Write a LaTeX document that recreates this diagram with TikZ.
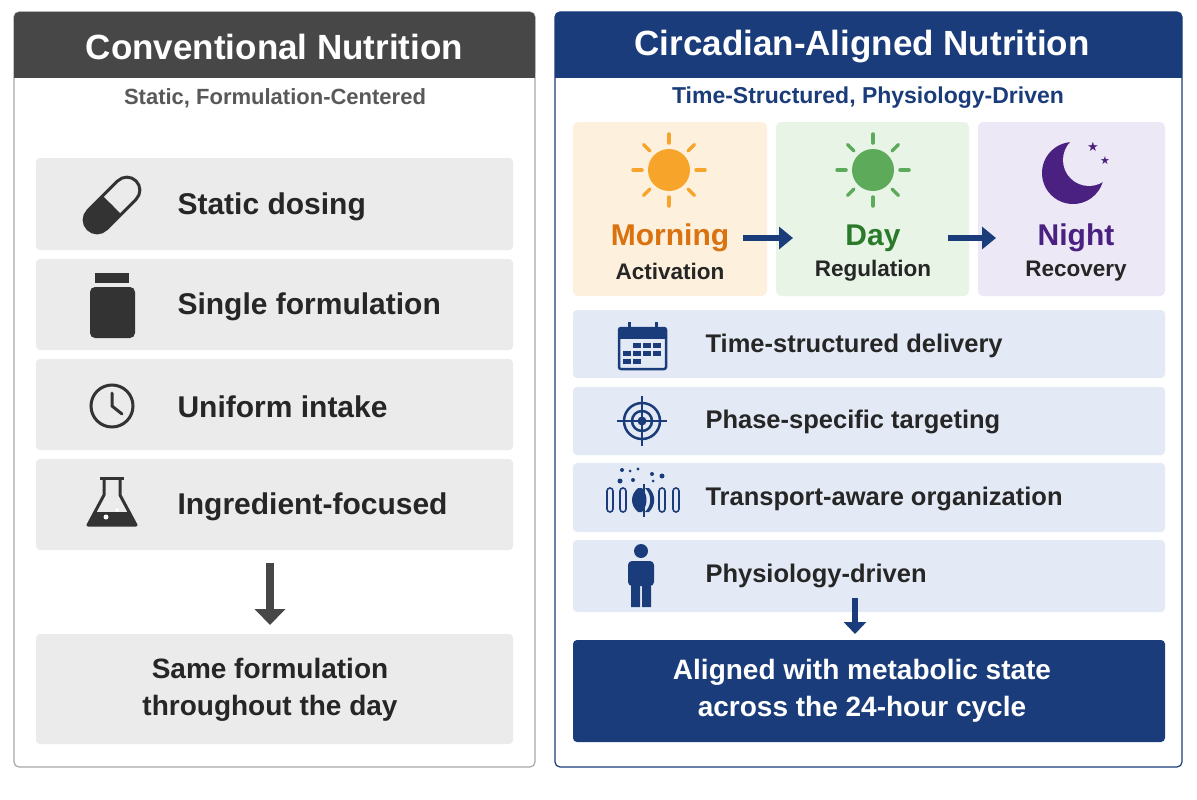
\documentclass[tikz,border=0pt]{standalone}
\usepackage{fontspec}
\usetikzlibrary{arrows.meta}
\setmainfont{Liberation Sans}
\newfontfamily\symf{DejaVu Sans}
\begin{document}
\begin{tikzpicture}[x=1pt,y=-1pt,
  lbox/.style={fill=boxgray,rounded corners=4pt},
  rbox/.style={fill=boxblue,rounded corners=4pt},
  ltxt/.style={anchor=west,font=\fontsize{30}{33}\selectfont\bfseries,text=black!85},
  rtxt/.style={anchor=west,font=\fontsize{25.5}{28}\selectfont\bfseries,text=black!85},
  big/.style={font=\fontsize{35}{40}\selectfont\bfseries,text=white}]
\definecolor{navy}{HTML}{1B3C7A}
\definecolor{boxgray}{HTML}{EBEBEB}
\definecolor{boxblue}{HTML}{E3EAF5}
\definecolor{dgray}{HTML}{474747}
\definecolor{morn}{HTML}{FDF0DC}
\definecolor{dayc}{HTML}{E8F4E6}
\definecolor{nite}{HTML}{ECE8F6}
\definecolor{orng}{HTML}{F7A52A}
\definecolor{orngt}{HTML}{D9720F}
\definecolor{grn}{HTML}{5DAA5A}
\definecolor{grnt}{HTML}{2A7A2A}
\definecolor{purp}{HTML}{4A2080}
\definecolor{ic}{HTML}{333333}
\useasboundingbox[fill=white] (0,0) rectangle (1197,800);
% left panel
\draw[draw=gray!70,rounded corners=5pt,line width=1.2pt] (14,12) rectangle (535,767);
\fill[dgray,rounded corners=5pt] (14,12) rectangle (535,78);
\fill[dgray] (14,50) rectangle (535,78);
\node[big] (lt) at (274.5,47) {Conventional Nutrition};
\node[font=\fontsize{22}{24}\selectfont\bfseries,text=black!65] (ls) at (275,98) {Static, Formulation-Centered};
\fill[lbox] (36,158) rectangle (513,250);
\fill[lbox] (36,259) rectangle (513,350);
\fill[lbox] (36,359) rectangle (513,450);
\fill[lbox] (36,459) rectangle (513,550);
\node[ltxt] (l1) at (174,207) {Static dosing};
\node[ltxt] (l2) at (174,307) {Single formulation};
\node[ltxt] (l3) at (174,407) {Uniform intake};
\node[ltxt] (l4) at (174,507) {Ingredient-focused};
% pill
\begin{scope}[shift={(112,205)},rotate=45]
\draw[ic,line width=3pt,rounded corners=13pt] (-34,-13) rectangle (34,13);
\fill[ic,rounded corners=11pt] (-33,-12) -- (0,-12) -- (0,12) -- (-33,12) -- cycle;
\fill[ic] (-20,-12) rectangle (0,12);
\end{scope}
% jar
\fill[ic] (95,273) rectangle (129,283);
\fill[ic,rounded corners=5pt] (90,287) rectangle (135,338);
% clock
\draw[ic,line width=3pt] (112,406) circle (21);
\draw[ic,line width=3pt,line cap=round] (112,393) -- (112,406) -- (122,414);
% flask
\draw[ic,line width=3pt,line join=round] (104,478) -- (104,495) -- (88,525) -- (136,525) -- (120,495) -- (120,478);
\draw[ic,line width=3pt] (100,478) -- (124,478);
\fill[ic] (94,512) -- (130,512) -- (136,525) -- (88,525) -- cycle;
\fill[white] (106,517) circle (2.5) (117,510) circle (1.8);
% arrow left
\coordinate (la1) at (270,563);
\coordinate (la2) at (270,625);
\draw[dgray,line width=8pt,-{Triangle[length=16pt,width=30pt]}] (la1) -- (la2);
\fill[lbox] (36,634) rectangle (513,744);
\node[font=\fontsize{28}{37}\selectfont\bfseries,align=center,text=black!85] (lb) at (270,690) {Same formulation\\throughout the day};
% right panel
\draw[draw=navy,rounded corners=5pt,line width=1.2pt] (555,12) rectangle (1182,767);
\fill[navy,rounded corners=5pt] (555,12) rectangle (1182,78);
\fill[navy] (555,50) rectangle (1182,78);
\node[big] (rt) at (862,47) {Circadian-Aligned Nutrition};
\node[font=\fontsize{23}{25}\selectfont\bfseries,text=navy] (rs) at (868,98) {Time-Structured, Physiology-Driven};
\fill[morn,rounded corners=5pt] (573,122) rectangle (767,296);
\fill[dayc,rounded corners=5pt] (776,122) rectangle (969,296);
\fill[nite,rounded corners=5pt] (978,122) rectangle (1165,296);
% suns
\foreach \cx/\cc in {669/orng,873/grn}{
  \fill[\cc] (\cx,170) circle (21);
  \foreach \a in {0,45,...,315}
    \draw[\cc,line width=3.5pt,line cap=round] (\cx,170) ++(\a:27) -- ++(\a:9);
}
% moon
\fill[purp] (1073,173) circle (31);
\fill[nite] (1089,160) circle (26);
\node[text=purp,font=\symf\fontsize{13}{13}\selectfont] (s1) at (1093,147) {★};
\node[text=purp,font=\symf\fontsize{11}{11}\selectfont] (s2) at (1105,161) {★};
\node[font=\fontsize{30}{33}\selectfont\bfseries,text=orngt] (m1) at (670,238) {Morning};
\node[font=\fontsize{22.5}{25}\selectfont\bfseries,text=black!85] (m2) at (670,271) {Activation};
\node[font=\fontsize{30}{33}\selectfont\bfseries,text=grnt] (d1) at (873,238) {Day};
\node[font=\fontsize{22.5}{25}\selectfont\bfseries,text=black!85] (d2) at (873,271) {Regulation};
\node[font=\fontsize{30}{33}\selectfont\bfseries,text=purp] (n1) at (1076,238) {Night};
\node[font=\fontsize{22.5}{25}\selectfont\bfseries,text=black!85] (n2) at (1076,271) {Recovery};
\coordinate (a1) at (743,238); \coordinate (a2) at (793,238);
\coordinate (a3) at (948,238); \coordinate (a4) at (996,238);
\draw[navy,line width=6pt,-{Triangle[length=14pt,width=22pt]}] (a1) -- (a2);
\draw[navy,line width=6pt,-{Triangle[length=14pt,width=22pt]}] (a3) -- (a4);
% list
\fill[rbox] (573,310) rectangle (1165,378);
\fill[rbox] (573,387) rectangle (1165,455);
\fill[rbox] (573,463) rectangle (1165,532);
\fill[rbox] (573,540) rectangle (1165,612);
\node[rtxt] (r1) at (702,346) {Time-structured delivery};
\node[rtxt] (r2) at (702,422) {Phase-specific targeting};
\node[rtxt] (r3) at (702,499) {Transport-aware organization};
\node[rtxt] (r4) at (702,576) {Physiology-driven};
% calendar
\draw[navy,line width=2.5pt,rounded corners=2pt] (619,328) rectangle (666,369);
\fill[navy] (619,328) rectangle (666,339);
\draw[navy,line width=3pt] (629,322) -- (629,333) (656,322) -- (656,333);
\foreach \xx/\yy in {637/345,647/345,657/345,627/353,637/353,647/353,657/353,627/361,637/361}
  \fill[navy] (\xx-4,\yy-2.5) rectangle (\xx+4,\yy+2.5);
% target
\draw[navy,line width=2.5pt] (642,421) circle (18) (642,421) circle (10);
\fill[navy] (642,421) circle (4.5);
\draw[navy,line width=2.5pt] (642,396) -- (642,446) (617,421) -- (667,421);
% transport
\foreach \xx/\yy/\r in {622/470/2,630/471/1.5,638/469/1.7,620/481/2.5,633/480/2,652/474/2,662/476/2.5,653/481/1.5}
  \fill[navy] (\xx,\yy) circle (\r);
\foreach \xx in {610,623,662,676}
  \draw[navy,line width=1.6pt,rounded corners=3pt] (\xx-3,488) rectangle (\xx+3,512);
\fill[navy] (638,488) .. controls (630,495) and (630,505) .. (638,512) -- (642,512) .. controls (648,505) and (648,495) .. (642,488) -- cycle;
\fill[navy] (645,488) .. controls (652,495) and (652,505) .. (645,512) -- (649,512) .. controls (656,505) and (656,495) .. (649,488) -- cycle;
\draw[navy,line width=1.2pt] (644,484) -- (644,517);
% person
\fill[navy] (641,551) circle (7);
\fill[navy,rounded corners=4pt] (628,561) rectangle (654,586);
\fill[navy] (631,580) rectangle (640,607) (642,580) rectangle (651,607);
% arrow right
\coordinate (ra1) at (855,598);
\coordinate (ra2) at (855,634);
\draw[navy,line width=6pt,-{Triangle[length=12pt,width=22pt]}] (ra1) -- (ra2);
\fill[navy,rounded corners=4pt] (573,640) rectangle (1165,742);
\node[font=\fontsize{28}{37}\selectfont\bfseries,align=center,text=white] (rb) at (862,691) {Aligned with metabolic state\\across the 24-hour cycle};
\end{tikzpicture}
\end{document}
